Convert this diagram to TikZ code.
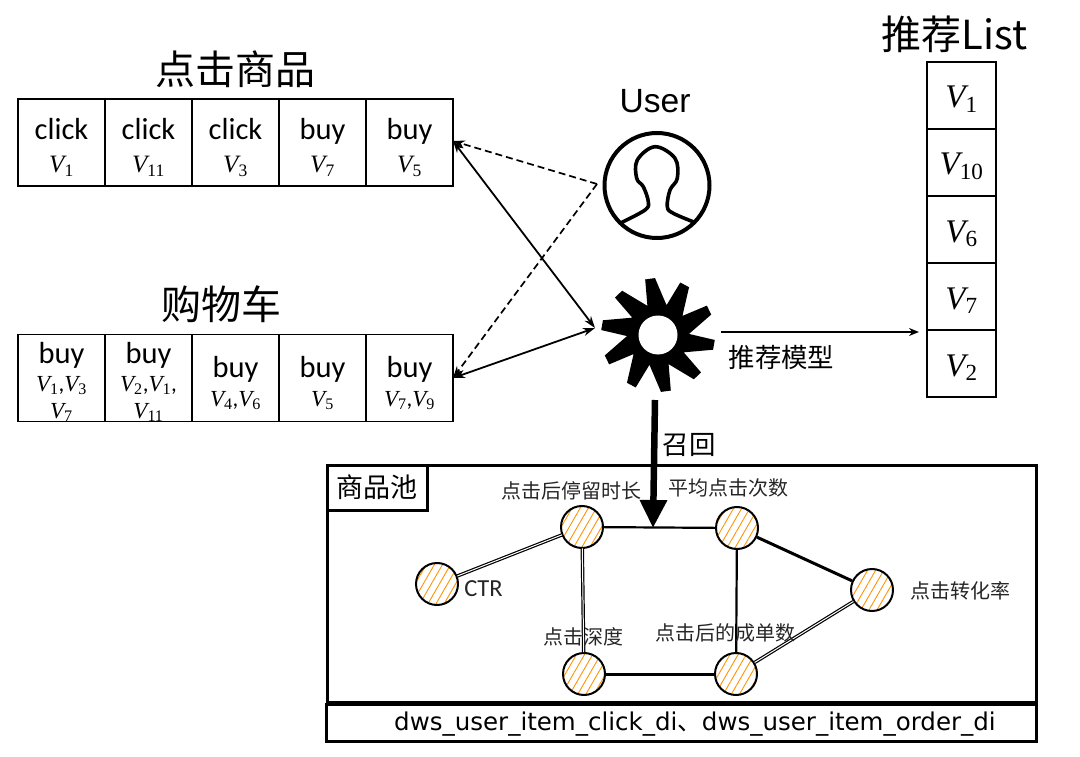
\documentclass[tikz,border=0pt]{standalone}
\usepackage{fix-cm}
\usepackage{amstext}
\usepackage{fontspec}
\setmainfont{Carlito}
\newfontfamily\cjk{Noto Sans CJK SC}
\newfontfamily\barfont{DejaVu Sans}
\newfontfamily\userfont{Liberation Sans}
\newfontfamily\vfont{Liberation Serif}
\usepackage{tikz}
\usetikzlibrary{arrows.meta,positioning,patterns.meta}
\newcommand{\vv}[1]{\mbox{\vfont\itshape V}$_{\text{\vfont\upshape #1}}$}
\newcommand{\vbig}[1]{{\fontsize{25}{25}\selectfont#1}}
\newcommand{\vsmall}[1]{{\fontsize{23}{25}\selectfont#1}}
\newcommand{\vlast}[1]{\raisebox{0pt}[\height][0pt]{\vsmall{#1}}}
\newcommand{\vlist}[1]{\raisebox{-12.5pt}[0pt][0pt]{#1}}
\newcommand{\cellpad}{\rule{0pt}{31pt}}
\newcommand{\tallpad}{\rule{0pt}{26pt}}

\begin{document}
\begin{tikzpicture}[
  x=1pt, y=-1pt,
  cell/.style={draw=black, rectangle, minimum width=87pt, minimum height=87pt,
               align=center, inner sep=0pt, outer sep=0pt, line width=1.6pt,
               font=\fontsize{30.5}{31}\selectfont},
  listcell/.style={draw=black, rectangle, minimum width=69pt, minimum height=67pt,
                   inner sep=0pt, outer sep=0pt, line width=1.6pt,
                   font=\fontsize{33}{35}\selectfont},
  heading/.style={inner sep=0pt, font=\cjk\fontsize{40}{42}\selectfont},
  small/.style={inner sep=0pt, font=\cjk\fontsize{20}{22}\selectfont, text=black!85},
  medium/.style={inner sep=0pt, font=\cjk\fontsize{26.4}{28}\selectfont},
  frame/.style={draw=black, rectangle, line width=3pt, inner sep=0pt, outer sep=0pt},
  metric/.style={draw=black, circle, minimum size=42pt, inner sep=0pt, line width=2pt,
                 pattern={Lines[angle=60,distance=7pt,line width=.9pt]},
                 pattern color=orange!85!yellow},
  thin arrow/.style={{Stealth[length=12pt,width=8pt]}-{Stealth[length=12pt,width=8pt]}, line width=1.8pt},
  dash arrow/.style={-{Stealth[length=12pt,width=8pt]}, dashed, dash pattern=on 7pt off 4pt, line width=1.7pt},
  plain edge/.style={line width=2.2pt},
  heavy edge/.style={line width=3pt},
  twin edge/.style={double, double distance=1pt, line width=1.2pt},
]
  \useasboundingbox (0,0) rectangle (1080,757);

  % click row
  \node[cell] (click1) at (61.5,142.5) {\cellpad click\\[2pt]\vbig{\vv{1}}};
  \node[cell, right=0pt of click1] (click2) {\cellpad click\\[2pt]\vbig{\vv{11}}};
  \node[cell, right=0pt of click2] (click3) {\cellpad click\\[2pt]\vbig{\vv{3}}};
  \node[cell, right=0pt of click3] (click4) {\cellpad buy\\[2pt]\vbig{\vv{7}}};
  \node[cell, right=0pt of click4] (click5) {\cellpad buy\\[2pt]\vbig{\vv{5}}};
  \node[heading, above=11pt of click3] (clicktitle) {点击商品};

  % cart row
  \node[cell] (cart1) at (61.5,378) {\tallpad buy\\[-3pt]\vsmall{\vv{1},\vv{3}}\\[-4pt]\vlast{\vv{7}}};
  \node[cell, right=0pt of cart1] (cart2) {\tallpad buy\\[-3pt]\vsmall{\vv{2},\vv{1},}\\[-4pt]\vlast{\vv{11}}};
  \node[cell, right=0pt of cart2] (cart3) {\cellpad buy\\[-2pt]\vsmall{\vv{4},\vv{6}}};
  \node[cell, right=0pt of cart3] (cart4) {\cellpad buy\\[-2pt]\vsmall{\vv{5}}};
  \node[cell, right=0pt of cart4] (cart5) {\cellpad buy\\[-2pt]\vsmall{\vv{7},\vv{9}}};
  \node[heading] (carttitle) at (221,304) {购物车};

  % user
  \node[draw=black, circle, minimum size=105pt, inner sep=0pt, line width=4pt] (user) at (657,185.5) {};
  \node[inner sep=0pt, font=\userfont\fontsize{33.6}{36}\selectfont, above=18pt of user, xshift=-2pt] (username) {User};
  \draw[line width=3.6pt, line join=round] plot[smooth, tension=.6] coordinates {
    (621.5,222.5) (645,210) (648.3,201.7) (643.3,186.7) (636.7,178.3) (637.3,160)
    (655,146.7) (675,158.3) (677.3,178.3) (670,190) (667.3,206.7) (673.3,213.3) (695,222.5)};

  % model
  \begin{scope}[shift={(658,335)}]
    \fill[black] (103:57pt)
      \foreach \a in {98,62,26,-10,-46,-82,-118,-154,-190,-226}{
        -- ({\a+5}:57pt) -- ({\a-5}:57pt) -- ({\a-24}:31pt)
      } -- cycle;
    \fill[white] (0,0) circle (19.5pt);
  \end{scope}
  \coordinate (modelin) at (595,328);
  \coordinate (modelout) at (721,332);
  \coordinate (modeldown) at (655,400);
  \coordinate (userin) at (597,184);
  \coordinate (clickend) at (453,141);
  \coordinate (cartend) at (453,378);

  \draw[thin arrow] (clickend) -- (modelin);
  \draw[thin arrow] (cartend) -- (modelin);
  \draw[dash arrow] (userin) -- (clickend);
  \draw[dash arrow] (userin) -- (cartend);

  % list
  \node[listcell] (list1) at (961.5,95.5) {\vlist{\vv{1}}};
  \node[listcell, below=0pt of list1] (list2) {\vlist{\vv{10}}};
  \node[listcell, below=0pt of list2] (list3) {\vlist{\vv{6}}};
  \node[listcell, below=0pt of list3] (list4) {\vlist{\vv{7}}};
  \node[listcell, below=0pt of list4] (list5) {\vlist{\vv{2}}};
  \node[heading] (listtitle) at (954.5,34) {推荐List};

  \coordinate (listin) at (919,332);
  \draw[-{Stealth[length=10pt,width=8pt]}, line width=1.7pt] (modelout) -- (listin);
  \node[medium] (modellabel) at (781.5,357) {推荐模型};

  % pool
  \node[frame, minimum width=709pt, minimum height=237pt] (pool) at (681.5,583.5) {};
  \node[frame, minimum width=100pt, minimum height=45pt, font=\cjk\fontsize{27}{29}\selectfont] (pooltag) at (377,487.5) {商品池};
  \node[frame, minimum width=710pt, minimum height=37pt, font=\barfont\fontsize{24.5}{26}\selectfont] (source) at (681,722.5) {\raisebox{-8pt}[0pt][0pt]{\hspace*{28pt}dws\_user\_item\_click\_di{\cjk 、}dws\_user\_item\_order\_di}};

  % metrics
  \node[metric] (stay) at (582,527) {};
  \node[metric] (avg) at (737,528) {};
  \node[metric] (ctr) at (437,584) {};
  \node[metric] (conv) at (872,590) {};
  \node[metric] (depth) at (584,674) {};
  \node[metric] (order) at (736,674) {};

  \draw[twin edge] (ctr) -- (stay);
  \draw[plain edge] (stay) -- (avg);
  \draw[twin edge] (stay) -- (depth);
  \draw[plain edge] (avg) -- (order);
  \draw[heavy edge] (avg) -- (conv);
  \draw[twin edge] (conv) -- (order);
  \draw[heavy edge] (depth) -- (order);

  \node[small] (staylabel) at (571,491) {点击后停留时长};
  \node[small] (avglabel) at (728,488) {平均点击次数};
  \node[small, font=\fontsize{24.5}{26}\selectfont] (ctrlabel) at (483.5,589) {CTR};
  \node[small] (convlabel) at (960,591) {点击转化率};
  \node[small] (depthlabel) at (583,637) {点击深度};
  \node[small] (orderlabel) at (725,633) {点击后的成单数};

  % recall
  \coordinate (recallend) at (653,528);
  \draw[-{Triangle[length=28pt,width=26pt]}, line width=6.5pt] (modeldown) -- (recallend);
  \node[medium] (recalllabel) at (689,445) {召回};
\end{tikzpicture}
\end{document}
